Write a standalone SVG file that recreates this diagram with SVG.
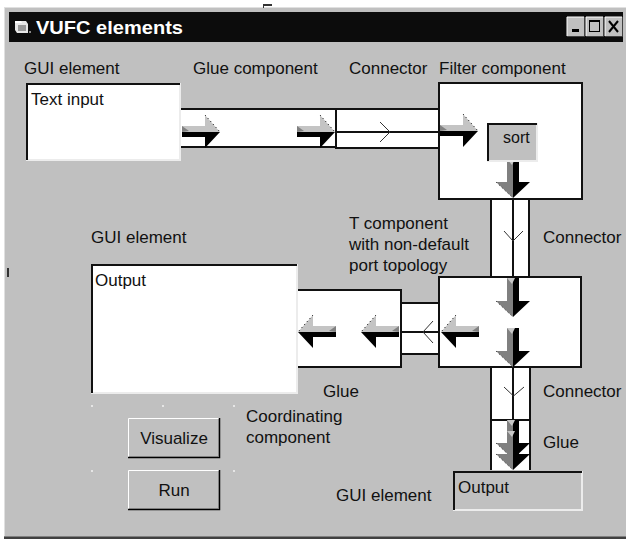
<svg xmlns="http://www.w3.org/2000/svg" xmlns:xlink="http://www.w3.org/1999/xlink" width="626" height="540" viewBox="0 0 626 540">
<style>
.lbl{font-family:"Liberation Sans",Arial,sans-serif;font-size:17px;fill:#111}
.ttl{font-family:"Liberation Sans",Arial,sans-serif;font-size:19px;font-weight:bold;fill:#fff}
.wbox{fill:#fff;stroke:#111;stroke-width:2}
.ln{stroke:#111;stroke-width:2;fill:none}
.chev{stroke:#333;stroke-width:1;fill:none}
.dk{stroke:#111;stroke-width:2;fill:none}
.lt{stroke:#ececec;stroke-width:2;fill:none}
.btn{fill:#c0c0c0}
</style>
<defs>
<g id="ar">
<polygon points="-38,-6 -15,-6 -15,-17 0,0 -38,0" fill="#c4c4c4"/>
<polygon points="-38,-6 -31,-1 -38,0" fill="#808080"/>
<polygon points="-38,0 0,0 -15,16 -15,5 -38,5" fill="#000"/>
<line x1="-15" y1="-17" x2="0" y2="0" stroke="#000" stroke-width="1" stroke-dasharray="1,3"/>
</g>
<g id="dn">
<polygon points="-6,-39 0,-39 0,0 -17,-16 -6,-16" fill="#808080"/>
<polygon points="0,-39 6,-39 6,-16 17,-16 0,0" fill="#000"/>
<polygon points="-6,-39 2,-39 -1,-33" fill="#c8c8c8"/>
<line x1="-17" y1="-16" x2="0" y2="0" stroke="#222" stroke-width="1" stroke-dasharray="1,3"/>
</g>
</defs>

<rect x="0" y="0" width="626" height="540" fill="#fff"/>

<g id="window">
<rect x="4" y="7" width="622" height="532" fill="#c0c0c0"/>
<line x1="4" y1="7.5" x2="626" y2="7.5" stroke="#e0e0e0"/>
<line x1="4.5" y1="7" x2="4.5" y2="538" stroke="#e0e0e0"/>
<line x1="4" y1="536.5" x2="626" y2="536.5" stroke="#808080"/>
<rect x="4" y="537" width="622" height="2" fill="#404040"/>
<rect x="9" y="12" width="614" height="30" fill="#0c0c0c"/>
<g id="icon">
<polygon points="15,21 26,21 28,24 28,33 17,33 15,30" fill="#e8e8e8"/>
<polygon points="15,21 21,21 22,23 15,23" fill="#fff"/>
<rect x="18" y="25" width="8" height="6" fill="#9a9a9a"/>
<rect x="29" y="31" width="2" height="2" fill="#888"/>
</g>
<text class="ttl" x="36" y="34" textLength="147" lengthAdjust="spacingAndGlyphs">VUFC elements</text>
<g id="titlebuttons">
<rect x="567" y="17" width="17" height="19" fill="#c0c0c0"/>
<path d="M567,36V17H584" stroke="#fff" fill="none"/>
<path d="M567,36.5H584.5V17" stroke="#404040" fill="none"/>
<rect x="572" y="29" width="7" height="3" fill="#000"/>
<rect x="586" y="17" width="17" height="19" fill="#c0c0c0"/>
<path d="M586,36V17H603" stroke="#fff" fill="none"/>
<path d="M586,36.5H603.5V17" stroke="#404040" fill="none"/>
<rect x="589.5" y="20.5" width="10" height="11" fill="none" stroke="#000"/>
<rect x="589" y="20" width="11" height="2" fill="#000"/>
<rect x="605" y="17" width="17" height="19" fill="#c0c0c0"/>
<path d="M605,36V17H622" stroke="#fff" fill="none"/>
<path d="M605,36.5H622.5V17" stroke="#404040" fill="none"/>
<path d="M609,21L618,32M618,21L609,32" stroke="#000" stroke-width="2"/>
</g>
</g>

<g id="artifacts">
<rect x="263" y="4" width="9" height="2" fill="#333"/>
<rect x="263" y="4" width="1" height="4" fill="#333"/>
<rect x="7" y="268" width="2" height="9" fill="#333"/>
</g>

<g id="labels">
<text class="lbl" x="24" y="74">GUI element</text>
<text class="lbl" x="193" y="74">Glue component</text>
<text class="lbl" x="349" y="74">Connector</text>
<text class="lbl" x="439" y="74">Filter component</text>
<text class="lbl" x="349" y="229">T component</text>
<text class="lbl" x="349" y="250">with non-default</text>
<text class="lbl" x="349" y="271">port topology</text>
<text class="lbl" x="543" y="243">Connector</text>
<text class="lbl" x="91" y="243">GUI element</text>
<text class="lbl" x="323" y="397">Glue</text>
<text class="lbl" x="543" y="397">Connector</text>
<text class="lbl" x="246" y="422">Coordinating</text>
<text class="lbl" x="246" y="443">component</text>
<text class="lbl" x="543" y="448">Glue</text>
<text class="lbl" x="336" y="501">GUI element</text>
</g>

<g id="connectors">
<g id="glue-top">
<rect x="180" y="109" width="156" height="38" fill="#fff"/>
<path class="ln" d="M180,109H336M180,147H336"/>
</g>
<g id="connector-top">
<rect x="336" y="109" width="103" height="39" fill="#fff"/>
<path class="ln" d="M336,109H439M336,148H439M336,132H439M336,108V149"/>
<path class="chev" d="M380,122L390,132L380,142"/>
</g>
<g id="connector-vert">
<rect x="491" y="199" width="38" height="78" fill="#fff"/>
<path class="ln" d="M491,199V277M529,199V277M513,199V277"/>
<path class="chev" d="M504,231L513,241L523,231"/>
</g>
<g id="connector-left">
<rect x="401" y="303" width="38" height="51" fill="#fff"/>
<path class="ln" d="M401,303H439M401,354H439M401,332H439"/>
<path class="chev" d="M433,321L423,332L433,343"/>
</g>
<g id="connector-bottom">
<rect x="491" y="367" width="39" height="53" fill="#fff"/>
<path class="ln" d="M491,367V420M530,367V420M513,367V420"/>
<path class="chev" d="M504,387L513.5,396L524,387"/>
</g>
</g>

<g id="text-input">
<rect x="26" y="83" width="154" height="77" fill="#fff"/>
<path class="lt" d="M26,160H180V83"/>
<path class="dk" d="M27,160V84H180"/>
<text class="lbl" x="31" y="105">Text input</text>
</g>

<g id="filter">
<rect class="wbox" x="439" y="83" width="143" height="116"/>
<use xlink:href="#dn" href="#dn" transform="translate(513,198)"/>
<g id="sort">
<rect x="487" y="123" width="50" height="38" fill="#c0c0c0"/>
<path class="lt" d="M487,161H537V123"/>
<path class="dk" d="M488,161V124H537"/>
<text class="lbl" style="font-size:16px" x="503" y="143">sort</text>
</g>
<use xlink:href="#ar" href="#ar" transform="translate(478,131)"/>
</g>

<g id="glue-arrows">
<use xlink:href="#ar" href="#ar" transform="translate(220,132)"/>
<use xlink:href="#ar" href="#ar" transform="translate(335,132)"/>
</g>

<g id="t-component">
<rect class="wbox" x="439" y="277" width="142" height="90"/>
<use xlink:href="#dn" href="#dn" transform="translate(513,317)"/>
<use xlink:href="#dn" href="#dn" transform="translate(513,367)"/>
<use xlink:href="#ar" href="#ar" transform="translate(441,332) scale(-1,1)"/>
</g>

<g id="glue-left">
<rect class="wbox" x="297" y="290" width="104" height="77"/>
<use xlink:href="#ar" href="#ar" transform="translate(298,332) scale(-1,1)"/>
<use xlink:href="#ar" href="#ar" transform="translate(361,332) scale(-1,1)"/>
</g>

<g id="output-big">
<rect x="91" y="264" width="206" height="129" fill="#fff"/>
<path class="lt" d="M91,393H297V264"/>
<path class="dk" d="M92,393V265H297"/>
<text class="lbl" x="95" y="286">Output</text>
</g>

<g id="glue-bottom">
<rect x="491" y="420" width="39" height="50" fill="#fff"/>
<path class="ln" d="M491,420V470M530,420V470M491,420H530"/>
<use xlink:href="#dn" href="#dn" transform="translate(513,459)"/>
<use xlink:href="#dn" href="#dn" transform="translate(513,470)"/>
</g>

<g id="output-small">
<rect x="453" y="471" width="129" height="39" fill="#c0c0c0"/>
<path class="lt" d="M453,510H582V471"/>
<path class="dk" d="M454,510V472H582"/>
<text class="lbl" x="458" y="493">Output</text>
</g>

<g id="coordinator">
<g fill="#e6e6e6">
<rect x="91" y="405" width="2" height="2"/>
<rect x="162" y="405" width="2" height="2"/>
<rect x="233" y="405" width="2" height="2"/>
<rect x="91" y="470" width="2" height="2"/>
<rect x="233" y="470" width="2" height="2"/>
</g>
<g id="btn-visualize">
<rect class="btn" x="128" y="418" width="92" height="40"/>
<path d="M128.5,457V418.5H219" stroke="#fff" fill="none"/>
<path d="M128,457.5H219.5V418" stroke="#000" fill="none" stroke-width="1.5"/>
<path d="M129,456.5H218.5V419" stroke="#808080" fill="none"/>
<text class="lbl" x="174" y="444" text-anchor="middle">Visualize</text>
</g>
<g id="btn-run">
<rect class="btn" x="128" y="470" width="92" height="40"/>
<path d="M128.5,509V470.5H219" stroke="#fff" fill="none"/>
<path d="M128,509.5H219.5V470" stroke="#000" fill="none" stroke-width="1.5"/>
<path d="M129,508.5H218.5V471" stroke="#808080" fill="none"/>
<text class="lbl" x="174" y="496" text-anchor="middle">Run</text>
</g>
</g>
</svg>
